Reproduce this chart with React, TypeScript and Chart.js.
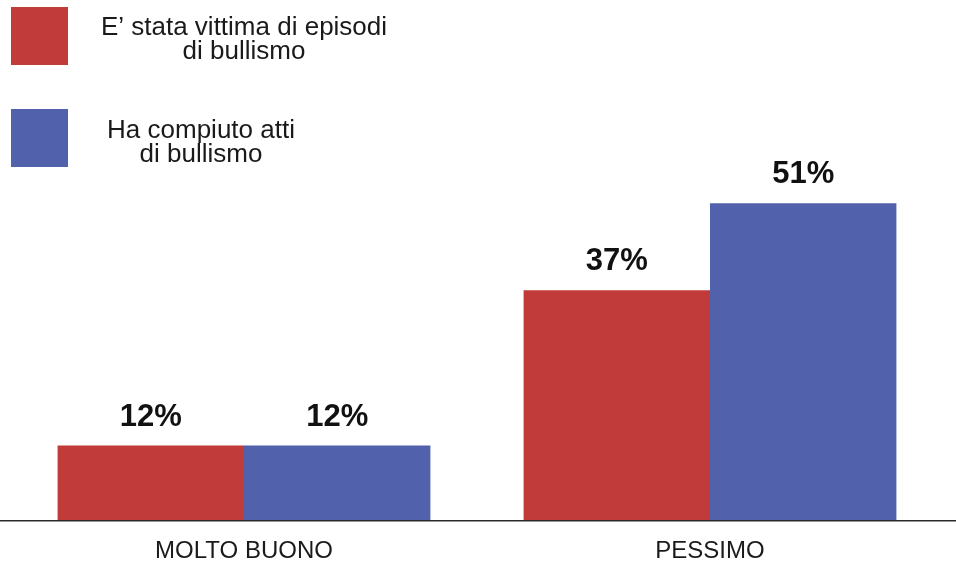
import React, { useEffect, useRef } from "react";
import { Chart, registerables } from "chart.js";

Chart.register(...registerables);

const categories = ["MOLTO BUONO", "PESSIMO"];
const victims = [12, 37];
const bullies = [12, 51];
const seriesLabels = [
  ["E’ stata vittima di episodi", "di bullismo"],
  ["Ha compiuto atti", "di bullismo"],
];
const RED = "#C03B39";
const BLUE = "#5261AC";
const FONT = "'Liberation Sans', Arial, Helvetica, sans-serif";

const legendPlugin = {
  id: "customLegend",
  afterDraw(chart: any) {
    const ctx = chart.ctx;
    const boxes = [
      { y: 7, cx: 244, base: 35 },
      { y: 109, cx: 201, base: 138 },
    ];
    ctx.save();
    chart.data.datasets.forEach((ds: any, i: number) => {
      const b = boxes[i];
      ctx.fillStyle = ds.backgroundColor;
      ctx.fillRect(11, b.y, 57, 58);
      ctx.fillStyle = "#1a1a1a";
      ctx.font = `26px ${FONT}`;
      ctx.textAlign = "center";
      ctx.textBaseline = "alphabetic";
      seriesLabels[i].forEach((line, j) => {
        ctx.fillText(line, b.cx, b.base + j * 24);
      });
    });
    ctx.restore();
  },
};

const valueLabelPlugin = {
  id: "valueLabels",
  afterDatasetsDraw(chart: any) {
    const ctx = chart.ctx;
    ctx.save();
    ctx.fillStyle = "#111";
    ctx.font = `bold 31px ${FONT}`;
    ctx.textAlign = "center";
    ctx.textBaseline = "alphabetic";
    chart.data.datasets.forEach((ds: any, i: number) => {
      const meta = chart.getDatasetMeta(i);
      meta.data.forEach((bar: any, j: number) => {
        ctx.fillText(`${ds.data[j]}%`, bar.x, bar.y - 20);
      });
    });
    ctx.restore();
  },
};

const baselinePlugin = {
  id: "baseline",
  afterDatasetsDraw(chart: any) {
    const ctx = chart.ctx;
    const y = chart.scales.y.getPixelForValue(0);
    ctx.save();
    ctx.strokeStyle = "#2a2a2a";
    ctx.lineWidth = 1.5;
    ctx.beginPath();
    ctx.moveTo(0, y + 0.5);
    ctx.lineTo(chart.width, y + 0.5);
    ctx.stroke();
    ctx.restore();
  },
};

export default function App() {
  const ref = useRef<HTMLCanvasElement | null>(null);

  useEffect(() => {
    document.body.style.margin = "0";
    if (!ref.current) return;
    const chart = new Chart(ref.current, {
      type: "bar",
      data: {
        labels: categories,
        datasets: [
          {
            label: seriesLabels[0].join(" "),
            data: victims,
            backgroundColor: RED,
            borderWidth: 0,
            barPercentage: 1,
            categoryPercentage: 0.8,
          },
          {
            label: seriesLabels[1].join(" "),
            data: bullies,
            backgroundColor: BLUE,
            borderWidth: 0,
            barPercentage: 1,
            categoryPercentage: 0.8,
          },
        ],
      },
      options: {
        animation: false,
        responsive: false,
        maintainAspectRatio: false,
        layout: { padding: { top: 85, left: 11, right: 13, bottom: -19 } },
        plugins: {
          legend: { display: false },
          tooltip: { enabled: false },
        },
        scales: {
          x: {
            grid: { display: false, drawTicks: false },
            border: { display: false },
            ticks: {
              color: "#1a1a1a",
              padding: 17,
              font: { family: FONT, size: 24 },
            },
          },
          y: {
            display: false,
            min: 0,
            max: 70,
          },
        },
      },
      plugins: [legendPlugin, valueLabelPlugin, baselinePlugin],
    });
    return () => chart.destroy();
  }, []);

  return (
    <div style={{ width: 956, height: 564, background: "#fff" }}>
      <canvas ref={ref} width={956} height={564} style={{ display: "block" }} />
    </div>
  );
}
